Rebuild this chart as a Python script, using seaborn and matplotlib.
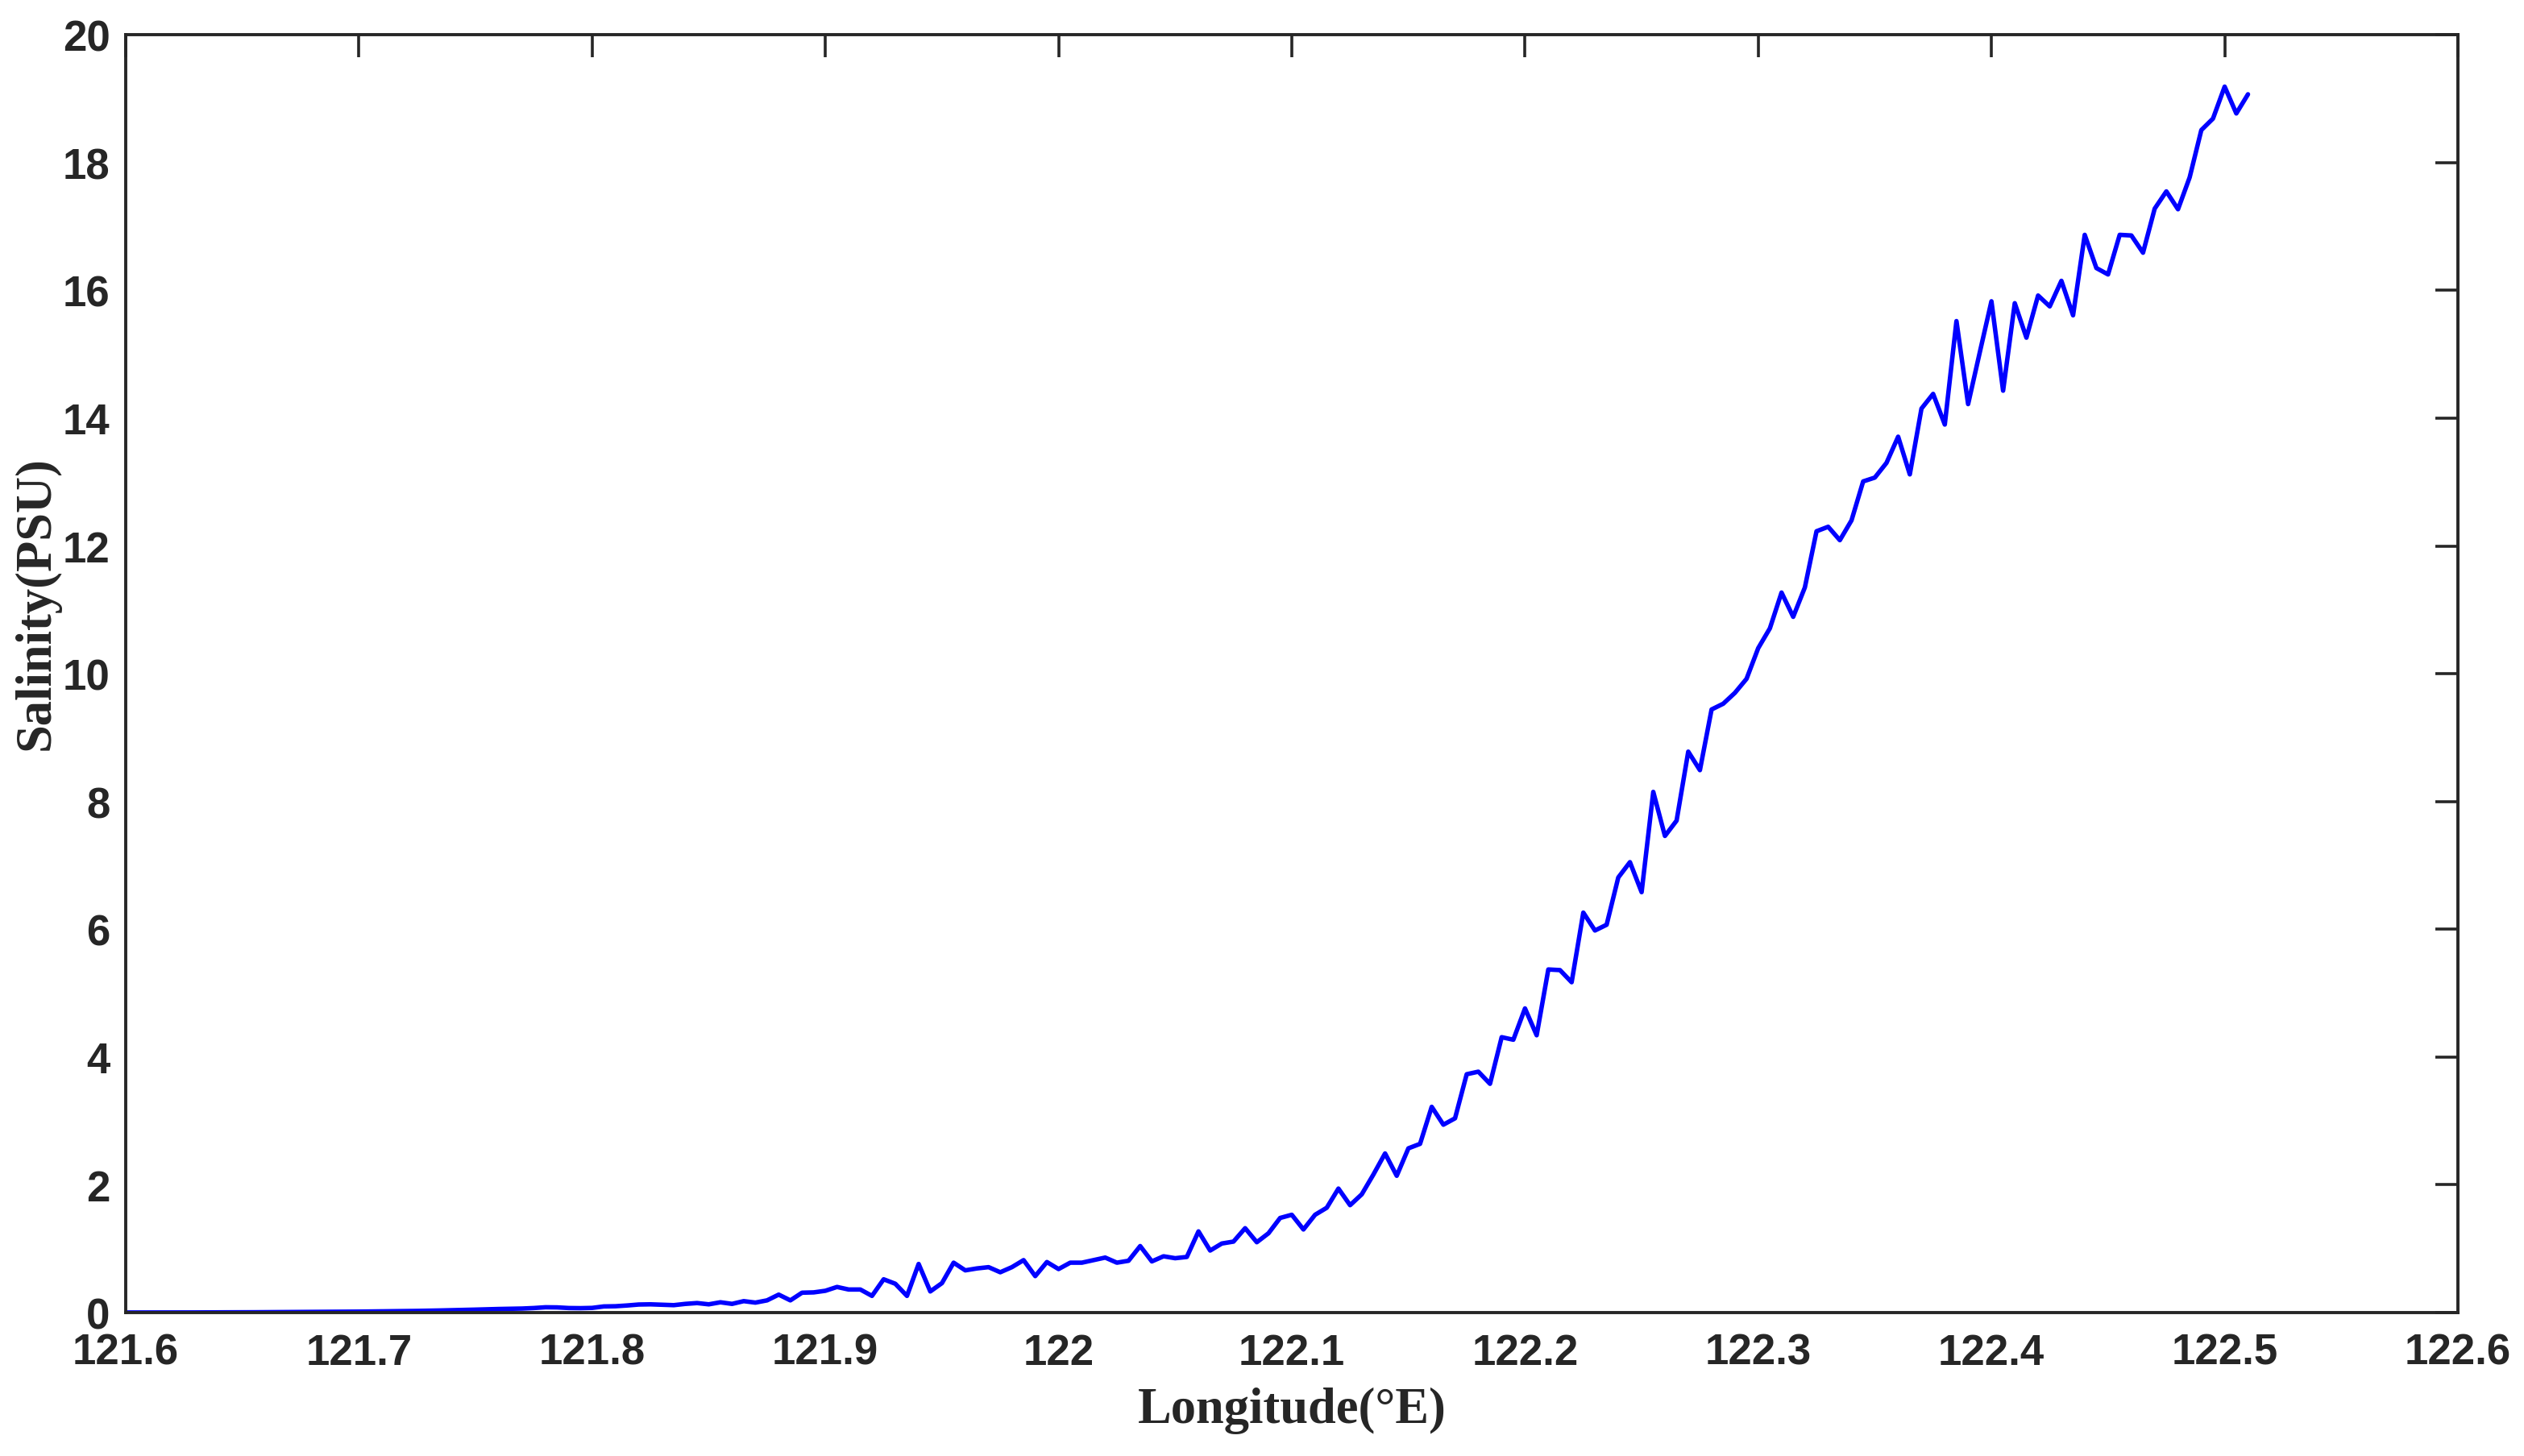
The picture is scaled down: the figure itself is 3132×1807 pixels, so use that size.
import numpy as np
import pandas as pd
import matplotlib
matplotlib.use("Agg")
import matplotlib.pyplot as plt
import seaborn as sns

# Salinity along the transect, one sample every 0.005 deg of longitude from 121.6 E
salinity = [
    0.000, 0.000, 0.000, 0.000, 0.001, 0.001, 0.001, 0.002, 0.002, 0.003,   # 121.60
    0.003, 0.004, 0.005, 0.006, 0.007, 0.008, 0.009, 0.010, 0.011, 0.012,   # 121.65
    0.014, 0.016, 0.018, 0.020, 0.022, 0.025, 0.028, 0.032, 0.036, 0.040,   # 121.70
    0.045, 0.050, 0.055, 0.058, 0.062, 0.070, 0.082, 0.080, 0.070, 0.068,   # 121.75
    0.072, 0.095, 0.098, 0.110, 0.125, 0.128, 0.122, 0.115, 0.135, 0.148,   # 121.80
    0.128, 0.160, 0.135, 0.178, 0.155, 0.190, 0.280, 0.190, 0.310, 0.315,   # 121.85
    0.34, 0.40, 0.36, 0.36, 0.26, 0.52, 0.45, 0.26, 0.76, 0.33,             # 121.90
    0.46, 0.78, 0.66, 0.69, 0.71, 0.63, 0.71, 0.82, 0.57, 0.79,             # 121.95
    0.68, 0.78, 0.78, 0.82, 0.86, 0.78, 0.81, 1.04, 0.80, 0.88,             # 122.00
    0.85, 0.87, 1.27, 0.97, 1.08, 1.11, 1.32, 1.10, 1.24, 1.48,             # 122.05
    1.53, 1.30, 1.53, 1.64, 1.94, 1.68, 1.85, 2.16, 2.49, 2.14,             # 122.10
    2.57, 2.64, 3.22, 2.94, 3.04, 3.73, 3.77, 3.58, 4.31, 4.27,             # 122.15
    4.76, 4.34, 5.37, 5.36, 5.17, 6.26, 5.98, 6.07, 6.81, 7.05,             # 122.20
    6.58, 8.15, 7.46, 7.70, 8.78, 8.49, 9.44, 9.53, 9.70, 9.92,             # 122.25
    10.40, 10.71, 11.27, 10.89, 11.35, 12.23, 12.30, 12.09, 12.40, 13.01,   # 122.30
    13.07, 13.30, 13.71, 13.12, 14.15, 14.38, 13.90, 15.52, 14.22, 15.03,   # 122.35
    15.83, 14.43, 15.80, 15.26, 15.92, 15.75, 16.15, 15.61, 16.87, 16.35,   # 122.40
    16.25, 16.87, 16.86, 16.59, 17.28, 17.55, 17.27, 17.77, 18.51, 18.69,   # 122.45
    19.19, 18.77, 19.07,                                                    # 122.50
]
lon_start = 121.6
lon_step = 0.005

x_ticks = [121.6, 121.7, 121.8, 121.9, 122.0, 122.1, 122.2, 122.3, 122.4, 122.5, 122.6]
x_ticklabels = ["121.6", "121.7", "121.8", "121.9", "122", "122.1",
                "122.2", "122.3", "122.4", "122.5", "122.6"]
y_ticks = [0, 2, 4, 6, 8, 10, 12, 14, 16, 18, 20]

df = pd.DataFrame({"lon": lon_start + lon_step * np.arange(len(salinity)),
                   "sal": salinity})

sns.set_style("white")
plt.rcParams["font.family"] = ["Liberation Sans", "DejaVu Sans"]

ink = "#262626"
fig = plt.figure(figsize=(15.66, 9.04), dpi=200)
ax = fig.add_axes([0.0498, 0.0985, 0.924, 0.877])

sns.lineplot(data=df, x="lon", y="sal", color="#0000ff", linewidth=2.0, ax=ax)

ax.set_xlim(121.6, 122.6)
ax.set_ylim(0, 20)
ax.set_xticks(x_ticks)
ax.set_xticklabels(x_ticklabels)
ax.set_yticks(y_ticks)

for s in ax.spines.values():
    s.set_visible(True)
    s.set_color(ink)
    s.set_linewidth(1.4)

ax.tick_params(direction="in", length=10, width=1.3, color=ink,
               top=True, right=True, labelsize=19, labelcolor=ink, pad=7)
ax.tick_params(axis="x", pad=9)
for lab in ax.get_xticklabels() + ax.get_yticklabels():
    lab.set_fontweight("bold")

label_font = dict(family=["Liberation Serif", "DejaVu Serif"], weight="bold",
                  size=22.5, color=ink)
ax.set_xlabel("Longitude(°E)", **label_font)
ax.set_ylabel("Salinity(PSU)", **label_font)
ax.xaxis.set_label_coords(0.5, -0.058)
ax.yaxis.set_label_coords(-0.028, 0.556)

fig.savefig("out.png", dpi=200, facecolor="white")
